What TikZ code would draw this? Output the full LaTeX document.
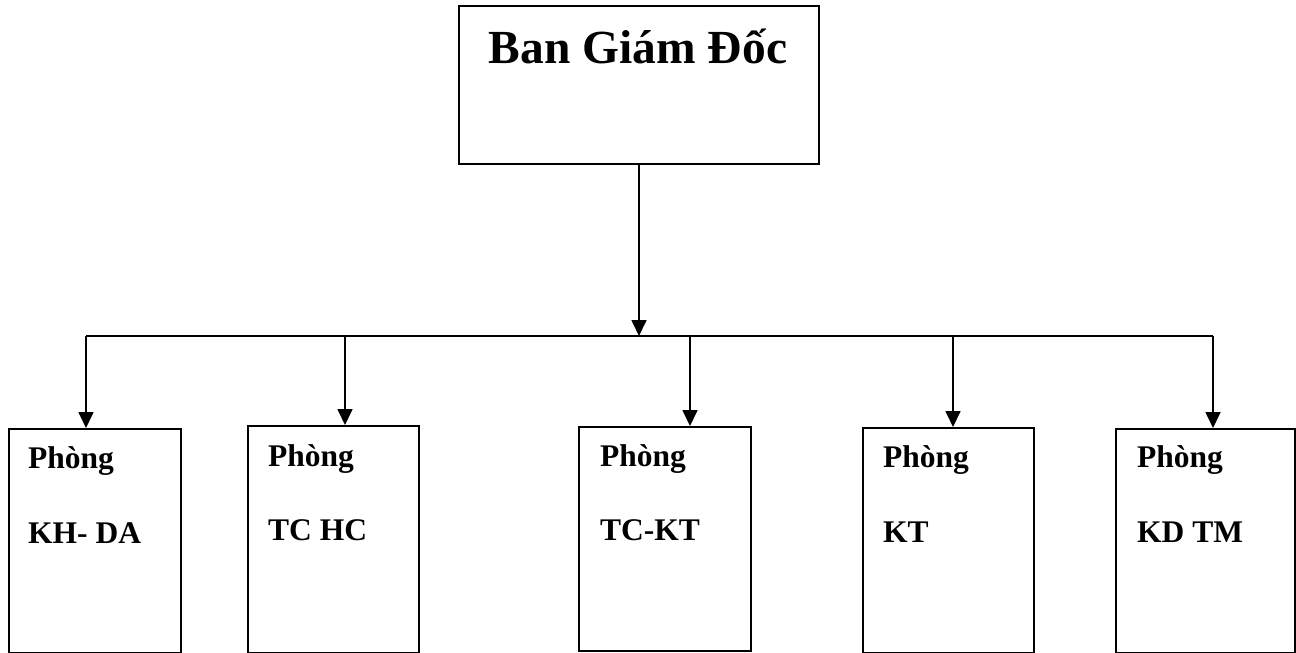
\documentclass[tikz,border=0pt]{standalone}
\usepackage{fontspec}
\setmainfont{Liberation Serif}
\usetikzlibrary{arrows.meta}
\begin{document}
\begin{tikzpicture}[x=1pt,y=-1pt,
  box/.style={draw, line width=1.7pt, inner sep=0pt, anchor=north west},
  lbl/.style={anchor=base west, inner sep=0pt, font=\fontsize{31.5}{36}\selectfont\bfseries},
  conn/.style={line width=1.7pt},
  arr/.style={conn, -{Triangle[width=15pt,length=16pt]}}]
\useasboundingbox (0,0) rectangle (1296,653);
% top box
\node[box, minimum width=360pt, minimum height=158pt] (top) at (458,5) {};
\node[anchor=base, inner sep=0pt, font=\fontsize{47.5}{56}\selectfont\bfseries] (toplbl) at (638,63) {Ban Giám Đốc};
% department boxes
\node[box, minimum width=172pt, minimum height=224pt] (b1) at (8,428) {};
\node[box, minimum width=171pt, minimum height=227pt] (b2) at (247,425) {};
\node[box, minimum width=172pt, minimum height=224pt] (b3) at (578,426) {};
\node[box, minimum width=171pt, minimum height=225pt] (b4) at (862,427) {};
\node[box, minimum width=179pt, minimum height=224pt] (b5) at (1115,428) {};
% labels
\node[lbl] (l1a) at (28,468) {Phòng};
\node[lbl] (l1b) at (28,543) {KH- DA};
\node[lbl] (l2a) at (268,466) {Phòng};
\node[lbl] (l2b) at (268,540) {TC HC};
\node[lbl] (l3a) at (600,466) {Phòng};
\node[lbl] (l3b) at (600,540) {TC-KT};
\node[lbl] (l4a) at (883,467) {Phòng};
\node[lbl] (l4b) at (883,542) {KT};
\node[lbl] (l5a) at (1137,467) {Phòng};
\node[lbl] (l5b) at (1137,542) {KD TM};
% bus
\coordinate (hub) at (639,336);
\coordinate (c1) at (86,336);
\coordinate (c2) at (345,336);
\coordinate (c3) at (690,336);
\coordinate (c4) at (953,336);
\coordinate (c5) at (1213,336);
\draw[arr] (top.south -| hub) -- (hub);
\draw[conn] (c1) -- (c5);
\draw[arr] (c1) -- (c1 |- b1.north);
\draw[arr] (c2) -- (c2 |- b2.north);
\draw[arr] (c3) -- (c3 |- b3.north);
\draw[arr] (c4) -- (c4 |- b4.north);
\draw[arr] (c5) -- (c5 |- b5.north);
\end{tikzpicture}
\end{document}
